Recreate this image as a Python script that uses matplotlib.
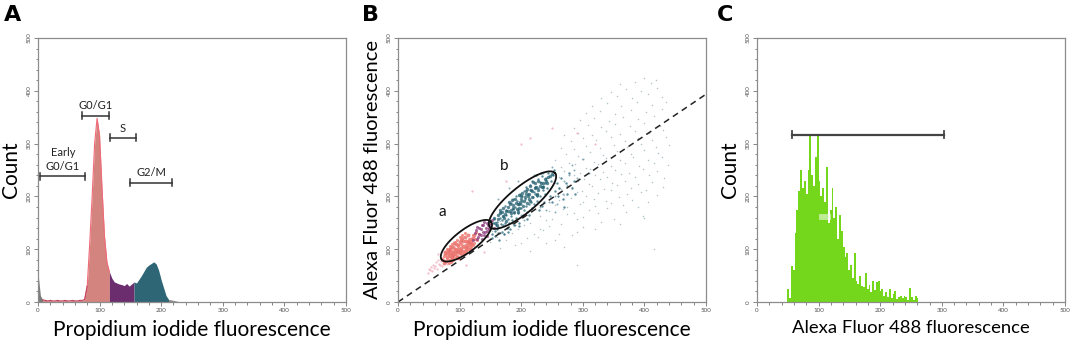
import matplotlib.pyplot as plt
import numpy as np
from matplotlib.ticker import MultipleLocator

plt.rcParams['font.family'] = ['Lato', 'DejaVu Sans']

# A: cell cycle histogram (PI), 4-unit bins
pi_bin_width = 4
pi_counts = [55, 12, 4, 3, 2, 3, 2, 2, 3, 2, 2, 3, 2, 2, 3, 2, 2, 3, 3, 5,
             30, 110, 200, 300, 348, 315, 215, 125, 75, 57, 45, 38, 36, 34, 33,
             31, 35, 30, 34, 38, 36, 43, 50, 58, 66, 70, 73, 76, 72, 60, 42, 27,
             12, 5, 4, 3, 2, 1, 0]
# gates (start, end, colour)
pi_gates = [(0, 8, '#7a7a7a'), (8, 116, '#d4847f'), (116, 156, '#6b2d6e'),
            (156, 212, '#2f6676'), (212, 232, '#8a8a8a')]
bracket_labels = ['Early\nG0/G1', 'G0/G1', 'S', 'G2/M']
bracket_ranges = [(4, 77, 238), (72, 115, 353), (117, 159, 311), (150, 218, 226)]

# B: PI vs Alexa 488 scatter
pink_x = [72, 78, 76, 80, 83, 86, 88, 82, 90, 92, 95, 89, 97, 100, 94, 99, 103, 106, 101, 108,
          110, 104, 112, 115, 118, 113, 107, 120, 96, 86, 79, 91, 102, 117, 109, 93, 84, 98, 111, 121,
          74, 81, 87, 77, 85, 93, 100, 105, 114, 119, 124, 90, 97, 83, 88, 103, 110, 116]
pink_y = [82, 78, 90, 86, 95, 80, 92, 99, 88, 97, 94, 104, 101, 92, 109, 84, 98, 106, 113, 96,
          116, 121, 104, 112, 119, 127, 90, 110, 85, 104, 93, 112, 118, 100, 124, 91, 87, 108, 108, 122,
          74, 99, 84, 95, 100, 100, 96, 115, 114, 111, 126, 92, 96, 90, 88, 103, 102, 115]
pink_fine = [(73, 80), (75, 88), (77, 76), (79, 84), (81, 92), (83, 79), (85, 87), (87, 96), (89, 82),
             (91, 90), (93, 100), (95, 88), (97, 106), (99, 93), (101, 100), (103, 110), (105, 96),
             (107, 104), (109, 115), (111, 99), (113, 108), (115, 120), (117, 106), (119, 116),
             (121, 126), (123, 112), (125, 120), (127, 133), (129, 118), (131, 128), (76, 95),
             (80, 100), (84, 106), (88, 110), (92, 114), (96, 118), (100, 123), (104, 127),
             (108, 130), (82, 74), (86, 76), (90, 80), (94, 84), (98, 86), (102, 90), (106, 92),
             (110, 96), (114, 100), (118, 104), (122, 108)]
purple_x = [125, 130, 134, 138, 128, 142, 146, 136, 132, 140, 148, 122, 127, 144, 150, 137,
            132, 135, 138, 141, 144, 147, 150, 153, 139, 129, 145, 155]
purple_y = [131, 124, 138, 132, 120, 141, 146, 145, 128, 127, 140, 118, 137, 135, 150, 119,
            140, 126, 145, 133, 150, 138, 145, 155, 152, 142, 125, 140]
halo_x = [48, 52, 55, 58, 60, 63, 66, 54, 62, 68, 70, 57, 65, 72, 50, 80, 88, 95, 118, 105,
          200, 215, 120, 250, 140, 65, 110, 290, 320, 175]
halo_y = [55, 60, 58, 64, 68, 62, 72, 66, 75, 70, 78, 70, 80, 68, 62, 72, 78, 85, 100, 90,
          300, 310, 210, 330, 95, 90, 70, 320, 300, 230]
teal_x = [158, 163, 155, 168, 172, 178, 165, 183, 187, 193, 180, 196, 199, 205, 190, 209, 213, 217, 201, 222,
          226, 230, 214, 236, 240, 244, 228, 186, 174, 198, 211, 225, 160, 170, 194, 207, 219, 233, 246, 181,
          203, 215, 185, 176, 250, 238, 162, 197, 223, 210, 170, 184, 192, 200, 208, 216, 224, 232, 178, 188,
          197, 206, 218, 228, 166, 175, 195, 212, 235, 242]
teal_y = [150, 158, 160, 170, 160, 172, 175, 168, 183, 176, 190, 186, 200, 192, 196, 188, 205, 198, 206, 215,
          205, 220, 220, 226, 230, 236, 212, 178, 166, 190, 200, 203, 145, 178, 170, 210, 228, 217, 238, 186,
          182, 192, 193, 154, 242, 232, 165, 202, 225, 214, 162, 175, 188, 196, 205, 212, 218, 226, 180, 170,
          178, 198, 210, 230, 168, 172, 185, 195, 218, 225]
teal_cloud = [(151, 140), (154, 150), (157, 135), (159, 146), (153, 128), (156, 158), (160, 139), (152, 121),
              (158, 125), (161, 152), (163, 142), (165, 160), (167, 148), (169, 133), (162, 130), (166, 170),
              (168, 156), (164, 118), (170, 145), (171, 162), (173, 150), (175, 175), (177, 140), (179, 158),
              (172, 128), (174, 182), (176, 165), (178, 132), (180, 150), (181, 170), (183, 188), (185, 156),
              (187, 176), (189, 145), (182, 138), (184, 162), (186, 195), (188, 168), (190, 180), (191, 160),
              (193, 192), (195, 175), (197, 150), (199, 186), (192, 200), (194, 168), (196, 144), (198, 205),
              (200, 178), (201, 192), (203, 165), (205, 210), (207, 182), (209, 158), (202, 200), (204, 175),
              (206, 195), (208, 218), (210, 170), (211, 205), (213, 185), (215, 222), (217, 178), (219, 198),
              (212, 165), (214, 212), (216, 190), (218, 230), (220, 208), (221, 186), (223, 218), (225, 200),
              (227, 232), (229, 175), (222, 205), (224, 240), (226, 192), (228, 215), (230, 228), (231, 200),
              (233, 238), (235, 212), (237, 190), (239, 225), (232, 245), (234, 182), (236, 220), (238, 205),
              (240, 235), (242, 215), (244, 245), (246, 200), (248, 230), (250, 190), (252, 240), (255, 210),
              (258, 225), (253, 250), (260, 200), (262, 215), (265, 235), (268, 195), (272, 225), (275, 205),
              (278, 245), (282, 215), (285, 230), (288, 205), (270, 180)]
outer_x = [150, 165, 178, 185, 200, 215, 230, 245, 255, 262, 270, 278, 285, 290, 172, 190, 205, 240, 258, 268,
           250, 235, 220, 195, 180, 162, 275, 282, 300, 310, 255]
outer_y = [120, 130, 140, 150, 165, 175, 180, 190, 200, 215, 230, 240, 250, 235, 128, 145, 155, 175, 185, 205,
           255, 245, 240, 230, 215, 195, 220, 260, 270, 245, 170]
sparse_pts = [(165, 102), (190, 108), (215, 97), (240, 112), (270, 104), (150, 113), (175, 118), (200, 111),
              (228, 123), (255, 117), (282, 126), (160, 124), (185, 131), (210, 122), (235, 136), (262, 128),
              (290, 133), (320, 138), (152, 134), (195, 139), (220, 128), (245, 143), (300, 142), (180, 143),
              (205, 146), (230, 139), (165, 153), (215, 149), (240, 156), (265, 148), (290, 158), (330, 152),
              (360, 147), (230, 163), (250, 158), (275, 166), (300, 161), (325, 168), (350, 157), (398, 163),
              (245, 172), (268, 176), (285, 168), (310, 174), (340, 178), (370, 171), (255, 184), (275, 179),
              (295, 186), (320, 181), (345, 188), (365, 183), (390, 179), (262, 193), (280, 197), (300, 189),
              (318, 196), (338, 192), (358, 198), (380, 194), (405, 190), (270, 203), (290, 208), (305, 201),
              (325, 206), (345, 212), (372, 204), (395, 209), (420, 202), (265, 214), (282, 218), (298, 211),
              (315, 219), (335, 214), (355, 222), (378, 216), (402, 212), (430, 218), (255, 226), (275, 221),
              (292, 229), (310, 224), (328, 232), (348, 226), (368, 230), (390, 223), (412, 228), (262, 236),
              (285, 240), (302, 233), (320, 241), (340, 237), (362, 243), (385, 236), (408, 240), (432, 234),
              (250, 246), (270, 249), (295, 244), (312, 251), (332, 247), (352, 250), (375, 245), (398, 252),
              (420, 248), (265, 256), (288, 261), (305, 254), (325, 262), (345, 258), (368, 264), (392, 257),
              (415, 263), (438, 259), (255, 268), (278, 264), (298, 271), (318, 266), (338, 273), (360, 268),
              (382, 275), (405, 269), (428, 274), (272, 281), (292, 277), (312, 284), (332, 279), (355, 286),
              (378, 281), (400, 288), (422, 283), (265, 292), (285, 289), (305, 296), (328, 291), (350, 298),
              (372, 293), (395, 299), (418, 294), (440, 297), (280, 304), (300, 310), (322, 306), (345, 312),
              (368, 305), (390, 311), (412, 307), (435, 313), (270, 316), (292, 321), (315, 317), (338, 323),
              (360, 318), (385, 324), (408, 320), (430, 326), (285, 330), (308, 336), (330, 332), (352, 338),
              (376, 333), (400, 339), (425, 334), (295, 345), (318, 349), (342, 343), (365, 351), (390, 346),
              (415, 352), (438, 347), (305, 358), (328, 362), (352, 356), (378, 364), (402, 359), (428, 365),
              (315, 371), (340, 376), (362, 372), (388, 378), (412, 373), (435, 379), (330, 386), (355, 391),
              (380, 387), (405, 393), (428, 388), (345, 398), (370, 404), (395, 399), (420, 406), (360, 412),
              (385, 417), (410, 414), (400, 424), (418, 420), (415, 100), (290, 70), (400, 160)]
diag_slope = 0.787

# C: Alexa 488 histogram, 3-unit bins starting at 46
ax_bin_start = 46
ax_bin_width = 3
ax_counts = [0, 25, 8, 68, 60, 130, 175, 210, 250, 215, 230, 205, 250, 315, 240, 220, 275, 315, 230, 200,
             215, 190, 255, 150, 175, 215, 160, 180, 120, 165, 135, 105, 85, 92, 60, 70, 45, 92, 40, 35,
             50, 30, 28, 55, 25, 32, 18, 40, 22, 38, 40, 20, 25, 12, 18, 10, 24, 8, 15, 20,
             5, 10, 12, 8, 12, 10, 4, 26, 10, 3, 12, 8, 0]
c_bracket = (56, 304, 317)


def style_axes(ax):
    ax.set_xlim(0, 500)
    ax.set_ylim(0, 500)
    for s in ax.spines.values():
        s.set_color('#8c8c8c')
        s.set_linewidth(0.9)
    ax.xaxis.set_major_locator(MultipleLocator(100))
    ax.yaxis.set_major_locator(MultipleLocator(100))
    ax.xaxis.set_minor_locator(MultipleLocator(20))
    ax.yaxis.set_minor_locator(MultipleLocator(20))
    ax.tick_params(which='both', direction='out', color='#707070', width=0.6, labelsize=4.5,
                   labelcolor='#555555', pad=1.5)
    ax.tick_params(which='major', length=3)
    ax.tick_params(which='minor', length=1.8)
    for lab in ax.get_yticklabels():
        lab.set_rotation(90)
        lab.set_va('center')


fig = plt.figure(figsize=(10.72, 3.46), dpi=100)
w, h, b = 0.2873, 0.763, 0.1272
axA = fig.add_axes([0.0354, b, w, h])
axB = fig.add_axes([0.3713, b, w, h])
axC = fig.add_axes([0.7062, b, w, h])

# ---- A
pi_x = np.arange(len(pi_counts)) * pi_bin_width
pi_c = np.array(pi_counts)
for g0, g1, col in pi_gates:
    m = (pi_x >= g0) & (pi_x <= g1)
    axA.fill_between(pi_x[m], 0, pi_c[m], color=col, lw=0)
m = (pi_x >= 76) & (pi_x <= 116)
axA.plot(pi_x[m], pi_c[m], color='#f06a78', lw=0.8)
m = (pi_x >= 8) & (pi_x <= 80)
axA.plot(pi_x[m], pi_c[m], color='#c0405a', lw=0.8)

for lab, (x0, x1, yb) in zip(bracket_labels, bracket_ranges):
    axA.plot([x0, x1], [yb, yb], color='#333333', lw=1.1)
    axA.plot([x0, x0], [yb - 7, yb + 7], color='#333333', lw=1.1)
    axA.plot([x1, x1], [yb - 7, yb + 7], color='#333333', lw=1.1)
    axA.text((x0 + x1) / 2, yb + 8, lab, ha='center', va='bottom', fontsize=8,
             color='#222222', linespacing=1.35)

style_axes(axA)
axA.set_xlabel('Propidium iodide fluorescence', fontsize=15, labelpad=5)
axA.set_ylabel('Count', fontsize=15, labelpad=4)

# ---- B
sp = np.array(sparse_pts)
tc = np.array(teal_cloud)
pf = np.array(pink_fine)
axB.scatter(sp[:, 0], sp[:, 1], s=1.2, color='#9cb6bd', alpha=0.8, lw=0)
axB.scatter(outer_x, outer_y, s=2, color='#6c98a4', alpha=0.8, lw=0)
axB.scatter(halo_x, halo_y, s=2.5, color='#f2b0c0', alpha=0.85, lw=0)
axB.scatter(tc[:, 0], tc[:, 1], s=3, color='#336f82', alpha=0.8, lw=0)
axB.scatter(teal_x, teal_y, s=6, color='#24606f', alpha=0.75, lw=0)
axB.scatter(pink_x, pink_y, s=8, color='#e8706c', alpha=0.8, lw=0)
axB.scatter(pf[:, 0], pf[:, 1], s=5, color='#ef7d74', alpha=0.85, lw=0)
axB.scatter(purple_x, purple_y, s=5, color='#8d3a7c', alpha=0.75, lw=0)
dx = np.array([0, 500])
axB.plot(dx, diag_slope * dx, ls=(0, (4, 3)), color='#222222', lw=1.1)

t = np.linspace(0, 2 * np.pi, 200)
for c, u, v, lab, lp in [((111, 116), (40, 36), (11.5, -16), 'a', (72, 170)),
                         ((202, 193), (53, 51), (13.5, -19), 'b', (172, 258))]:
    ex = c[0] + np.cos(t) * u[0] + np.sin(t) * v[0]
    ey = c[1] + np.cos(t) * u[1] + np.sin(t) * v[1]
    axB.plot(ex, ey, color='#111111', lw=1.3)
    axB.text(lp[0], lp[1], lab, fontsize=11, ha='center', va='center', color='#111111')

style_axes(axB)
axB.set_xlabel('Propidium iodide fluorescence', fontsize=15, labelpad=5)
axB.set_ylabel('Alexa Fluor 488 fluorescence', fontsize=14.5, labelpad=4)

# ---- C
edges = ax_bin_start + np.arange(len(ax_counts) + 1) * ax_bin_width
axC.stairs(ax_counts, edges, fill=True, color='#74d71c', lw=0)
x0, x1, yb = c_bracket
axC.plot([x0, x1], [yb, yb], color='#444444', lw=1.6)
axC.plot([x0, x0], [yb - 7, yb + 7], color='#444444', lw=1.3)
axC.plot([x1, x1], [yb - 7, yb + 7], color='#444444', lw=1.3)
axC.text(110, 161, '100%', fontsize=3, color='#c8f0a8', ha='center', va='center',
         bbox=dict(boxstyle='square,pad=0.2', fc='white', ec='none', alpha=0.5))
style_axes(axC)
axC.set_xlabel('Alexa Fluor 488 fluorescence', fontsize=13.3, labelpad=5)
axC.set_ylabel('Count', fontsize=15, labelpad=4)

for x, lab in [(0.004, 'A'), (0.338, 'B'), (0.669, 'C')]:
    fig.text(x, 0.985, lab, fontsize=16, fontweight='bold', va='top', ha='left',
             family='DejaVu Sans')

fig.savefig('out.png', dpi=100)
